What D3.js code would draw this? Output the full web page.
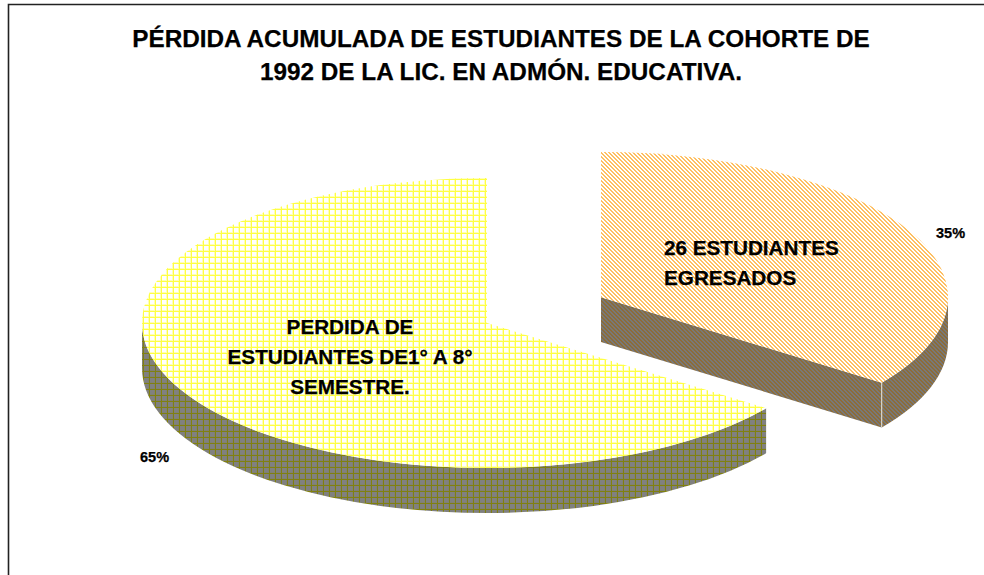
<!DOCTYPE html>
<html><head><meta charset="utf-8">
<script src="https://cdn.jsdelivr.net/npm/d3@7"></script>
<style>html,body{margin:0;padding:0;background:#fff}svg{display:block}text{font-family:"Liberation Sans",Arial,sans-serif;font-weight:bold;fill:#000;stroke:#000;stroke-width:.25px}</style>
</head><body><div id="c"></div>
<script>
const categories = ["PERDIDA DE ESTUDIANTES DE1° A 8° SEMESTRE.", "26 ESTUDIANTES EGRESADOS"];
const values = [65, 35];
const percentLabels = ["65%", "35%"];
const titleLines = ["PÉRDIDA ACUMULADA DE ESTUDIANTES DE LA COHORTE DE", "1992 DE LA LIC. EN ADMÓN. EDUCATIVA."];
const sliceLabelLines = [["PERDIDA DE", "ESTUDIANTES DE1° A 8°", "SEMESTRE."], ["26 ESTUDIANTES", "EGRESADOS"]];

const W = 984, H = 575;
const svg = d3.select("#c").append("svg").attr("width", W).attr("height", H);
const defs = svg.append("defs");

function grid(id, bg, line, pale) {
  const p = defs.append("pattern").attr("id", id).attr("patternUnits", "userSpaceOnUse")
    .attr("width", 6).attr("height", 6);
  p.append("rect").attr("width", 6).attr("height", 6).attr("fill", bg);
  p.append("rect").attr("x", 4).attr("width", 1).attr("height", 6).attr("fill", pale);
  p.append("rect").attr("y", 4).attr("width", 6).attr("height", 1).attr("fill", pale);
  p.append("rect").attr("x", 5).attr("width", 1).attr("height", 6).attr("fill", line);
  p.append("rect").attr("y", 5).attr("width", 6).attr("height", 1).attr("fill", line);
}
function hatch(id, bg, line) {
  const p = defs.append("pattern").attr("id", id).attr("patternUnits", "userSpaceOnUse")
    .attr("width", 4).attr("height", 4);
  p.append("rect").attr("width", 4).attr("height", 4).attr("fill", bg);
  for (let i = 0; i < 4; i++) for (let k = 0; k < 2; k++) {
    p.append("rect").attr("x", (i + k) % 4).attr("y", i).attr("width", 1).attr("height", 1).attr("fill", line);
  }
}
grid("gTop", "#ffffff", "#ffff44", "#ffffb8");
grid("gSide", "#808080", "#808010", "#808072");
hatch("hTop", "#ffffff", "#ffc062");
hatch("hSide", "#787878", "#8c6c38");

const pie = d3.pie().sort(null).value(d => d);
const arcs = pie(values);

const geo = [
  { cx: 487, cy: 323, rx: 345, ry: 145, depth: 45 },
  { cx: 601, cy: 297.3, rx: 347, ry: 145.3, depth: 44.7 }
];
const pt = (g, a, dy = 0) => [g.cx + g.rx * Math.sin(a), g.cy - g.ry * Math.cos(a) + dy];

// slice 0 runs counter-clockwise from 12 o'clock, slice 1 clockwise
function angles(i) {
  const a = arcs[i];
  if (i === 0) return [-(a.endAngle - a.startAngle), 0];
  return [0, a.endAngle - a.startAngle];
}
function topPath(g, a0, a1) {
  const p0 = pt(g, a0), p1 = pt(g, a1);
  const large = a1 - a0 > Math.PI ? 1 : 0;
  return `M${g.cx},${g.cy}L${p0}A${g.rx},${g.ry} 0 ${large} 1 ${p1}Z`;
}
function rimPath(g, a0, a1) {
  const p0 = pt(g, a0), p1 = pt(g, a1), q1 = pt(g, a1, g.depth), q0 = pt(g, a0, g.depth);
  const large = a1 - a0 > Math.PI ? 1 : 0;
  return `M${p0}A${g.rx},${g.ry} 0 ${large} 1 ${p1}L${q1}A${g.rx},${g.ry} 0 ${large} 0 ${q0}Z`;
}

// large slice
{
  const g = geo[0], [a0, a1] = angles(0);
  svg.append("path").attr("d", rimPath(g, a0, -Math.PI / 2)).attr("fill", "url(#gSide)");
  svg.append("path").attr("d", topPath(g, a0, a1)).attr("fill", "url(#gTop)");
}
// small slice
{
  const g = geo[1], [a0, a1] = angles(1);
  const pe = pt(g, a1), qe = pt(g, a1, g.depth);
  svg.append("path").attr("d", rimPath(g, Math.PI / 2, a1)).attr("fill", "url(#hSide)");
  svg.append("path").attr("d", `M${g.cx},${g.cy}L${pe}L${qe}L${g.cx},${g.cy + g.depth}Z`).attr("fill", "url(#hSide)");
  svg.append("path").attr("d", topPath(g, a0, a1)).attr("fill", "url(#hTop)");
  svg.append("line").attr("x1", pe[0]).attr("y1", pe[1]).attr("x2", qe[0]).attr("y2", qe[1])
    .attr("stroke", "#e8e4d8").attr("stroke-width", 1);
}

// frame: only the top and left edges reach the picture
svg.append("path").attr("d", `M8.5,${H}V4.5H${W}`).attr("fill", "none").attr("stroke", "#222").attr("stroke-width", 1.6);

// title
svg.append("g").selectAll("text").data(titleLines).join("text")
  .attr("x", 501).attr("y", (d, i) => 47 + i * 33).attr("text-anchor", "middle")
  .attr("font-size", 24.3).text(d => d);

// slice labels
const labelPos = [{ x: 350, y: 334, a: "middle" }, { x: 664, y: 255, a: "start" }];
sliceLabelLines.forEach((lines, i) => {
  svg.append("g").selectAll("text").data(lines).join("text")
    .attr("x", labelPos[i].x).attr("y", (d, k) => labelPos[i].y + k * 30)
    .attr("text-anchor", labelPos[i].a).attr("font-size", 20.7).text(d => d);
});

// percent labels
const pctPos = [{ x: 140, y: 462 }, { x: 936, y: 238 }];
percentLabels.forEach((t, i) => {
  svg.append("text").attr("x", pctPos[i].x).attr("y", pctPos[i].y).attr("font-size", 14.5).text(t);
});
</script></body></html>
